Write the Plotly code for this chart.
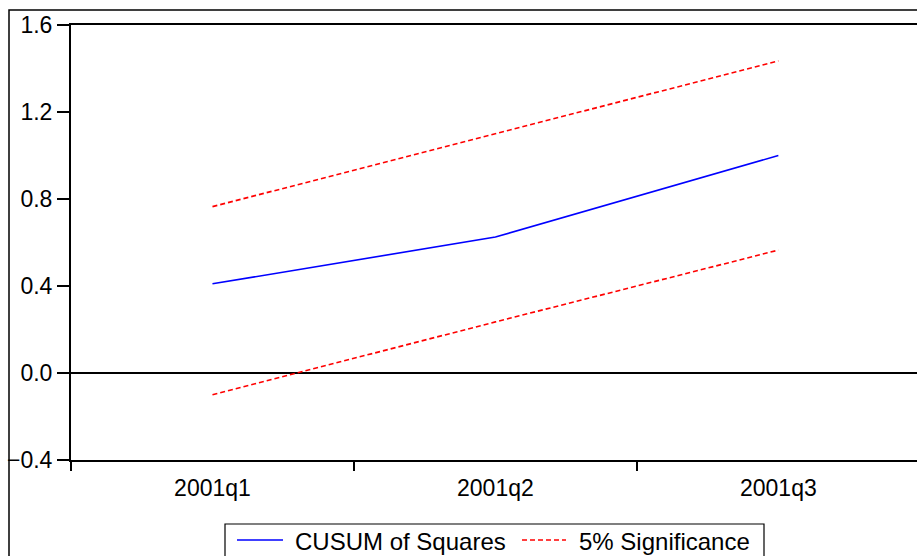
import plotly.graph_objects as go

categories = ["2001q1", "2001q2", "2001q3"]
cusum_sq = [0.41, 0.625, 1.0]
upper_5 = [0.765, 1.10, 1.435]
lower_5 = [-0.10, 0.235, 0.565]
y_ticks = [-0.4, 0.0, 0.4, 0.8, 1.2, 1.6]
legend_names = ["CUSUM of Squares", "5% Significance"]

FONT = "Liberation Sans, Arial, sans-serif"
BLUE = "#0000ff"
RED = "#ff0000"
DASH = "5px,3px"

fig = go.Figure()
fig.add_trace(go.Scatter(x=categories, y=cusum_sq, mode="lines", name=legend_names[0],
                         line=dict(color=BLUE, width=1.6)))
fig.add_trace(go.Scatter(x=categories, y=upper_5, mode="lines", name=legend_names[1],
                         line=dict(color=RED, width=1.6, dash=DASH)))
fig.add_trace(go.Scatter(x=categories, y=lower_5, mode="lines", name=legend_names[1],
                         line=dict(color=RED, width=1.6, dash=DASH)))

L, R, T, B = 71, 0, 25, 96
W, H = 917, 556
pw = W - L - R
ph = H - T - B


def px(x):
    return (x - L) / pw


def py(y):
    return (H - B - y) / ph


# legend drawn as box + samples + text (EViews style)
leg_y = 540
shapes = [
    dict(type="rect", xref="paper", yref="paper",
         x0=px(9), x1=1.2, y0=-0.5, y1=py(10),
         line=dict(color="black", width=1.5), fillcolor="rgba(0,0,0,0)"),
    dict(type="rect", xref="paper", yref="paper",
         x0=px(225), x1=px(764), y0=py(580), y1=py(524),
         line=dict(color="black", width=1.2), fillcolor="white", layer="above"),
    dict(type="line", xref="paper", yref="paper",
         x0=px(237), x1=px(283), y0=py(leg_y), y1=py(leg_y),
         line=dict(color=BLUE, width=1.4)),
    dict(type="line", xref="paper", yref="paper",
         x0=px(522), x1=px(566), y0=py(leg_y), y1=py(leg_y),
         line=dict(color=RED, width=1.4, dash=DASH)),
]
annotations = [
    dict(xref="paper", yref="paper", x=px(293), y=py(leg_y + 1), xanchor="left", yanchor="middle",
         text=legend_names[0], showarrow=False, font=dict(family=FONT, size=24, color="black")),
    dict(xref="paper", yref="paper", x=px(577), y=py(leg_y + 1), xanchor="left", yanchor="middle",
         text=legend_names[1], showarrow=False, font=dict(family=FONT, size=24, color="black")),
]

fig.update_layout(
    width=W, height=H,
    margin=dict(l=L, r=R, t=T, b=B, autoexpand=False),
    paper_bgcolor="white", plot_bgcolor="white",
    font=dict(family=FONT, size=23, color="black"),
    showlegend=False,
    xaxis=dict(type="category", range=[-0.5, 2.49], tickson="boundaries",
               ticks="outside", ticklen=9, tickwidth=1.5, tickcolor="black",
               showline=True, linecolor="black", linewidth=2, mirror=True,
               showgrid=False, zeroline=False, ticklabelstandoff=6,
               tickfont=dict(family=FONT, size=23, color="black")),
    yaxis=dict(range=[-0.4, 1.6], tickvals=y_ticks, tickformat=".1f",
               ticks="outside", ticklen=12, tickwidth=1.5, tickcolor="black",
               showline=True, linecolor="black", linewidth=2, mirror=False,
               showgrid=False, zeroline=True, zerolinecolor="black", zerolinewidth=1.5,
               tickfont=dict(family=FONT, size=23, color="black")),
    shapes=shapes,
    annotations=annotations,
)

fig.write_html("out.html", config={"displayModeBar": False},
               post_script="document.body.style.margin='0px';document.body.style.overflow='hidden';")
